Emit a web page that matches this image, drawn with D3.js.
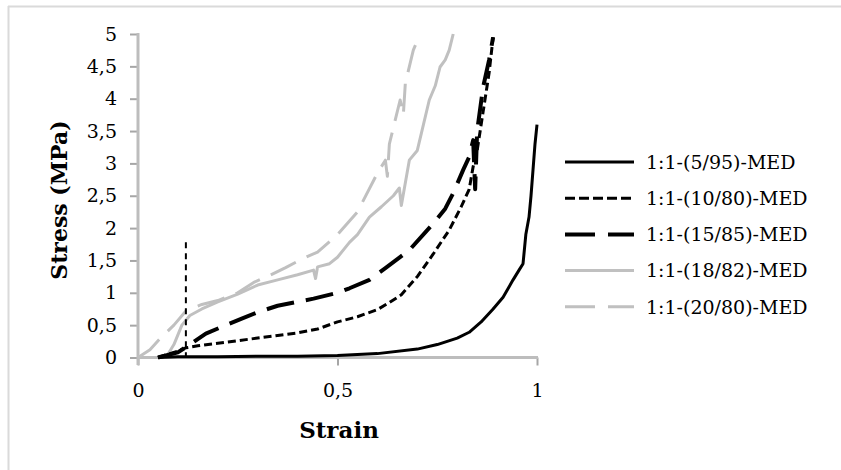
<!DOCTYPE html>
<html>
<head>
<meta charset="utf-8">
<script src="https://cdn.jsdelivr.net/npm/d3@7"></script>
<style>
  body { margin: 0; background: #fff; }
  svg { display: block; }
  .tick text { font-family: "DejaVu Serif", serif; font-size: 19px; fill: #000; }
</style>
</head>
<body>
<svg id="chart" width="841" height="470"></svg>
<script>
// --- data ---
var seriesNames = ["1:1-(5/95)-MED", "1:1-(10/80)-MED", "1:1-(15/85)-MED", "1:1-(18/82)-MED", "1:1-(20/80)-MED"];

var strain595 = [0.05, 0.1, 0.2, 0.3, 0.4, 0.5, 0.6, 0.7, 0.75, 0.8, 0.83, 0.86, 0.89, 0.915, 0.94, 0.955, 0.965, 0.972, 0.98, 0.985, 0.99, 0.995, 1.0];
var stress595 = [0, 0.01, 0.01, 0.02, 0.02, 0.03, 0.06, 0.13, 0.2, 0.3, 0.39, 0.55, 0.75, 0.93, 1.2, 1.35, 1.45, 1.9, 2.17, 2.5, 2.9, 3.3, 3.6];

var strain1080 = [0.05, 0.08, 0.1, 0.12, 0.15, 0.2, 0.25, 0.3, 0.35, 0.4, 0.45, 0.5, 0.55, 0.6, 0.63, 0.66, 0.7, 0.74, 0.78, 0.81, 0.83, 0.84, 0.85, 0.865, 0.88, 0.89];
var stress1080 = [0, 0.06, 0.1, 0.15, 0.18, 0.22, 0.26, 0.3, 0.34, 0.38, 0.44, 0.55, 0.63, 0.74, 0.85, 0.97, 1.25, 1.6, 1.97, 2.33, 2.6, 2.95, 3.2, 3.8, 4.4, 4.95];

var strain1585 = [0.05, 0.1, 0.13, 0.17, 0.22, 0.26, 0.3, 0.35, 0.4, 0.44, 0.5, 0.53, 0.58, 0.62, 0.68, 0.74, 0.77, 0.79, 0.815, 0.83, 0.84, 0.845, 0.85, 0.865, 0.88, 0.89];
var stress1585 = [0, 0.08, 0.2, 0.37, 0.5, 0.6, 0.7, 0.8, 0.86, 0.91, 1.0, 1.07, 1.2, 1.38, 1.66, 2.07, 2.3, 2.54, 2.9, 3.1, 3.36, 2.6, 3.5, 4.18, 4.6, 4.95];

var strain1882 = [0.07, 0.09, 0.11, 0.13, 0.16, 0.2, 0.25, 0.3, 0.35, 0.4, 0.44, 0.445, 0.45, 0.48, 0.5, 0.53, 0.55, 0.58, 0.61, 0.64, 0.655, 0.66, 0.68, 0.7, 0.71, 0.73, 0.745, 0.757, 0.77, 0.78, 0.79];
var stress1882 = [0, 0.2, 0.5, 0.65, 0.75, 0.86, 0.98, 1.12, 1.2, 1.28, 1.35, 1.22, 1.4, 1.45, 1.55, 1.78, 1.9, 2.17, 2.33, 2.5, 2.62, 2.35, 3.05, 3.2, 3.46, 3.98, 4.2, 4.49, 4.6, 4.75, 5.0];

var strain2080 = [0, 0.03, 0.055, 0.09, 0.12, 0.16, 0.2, 0.25, 0.29, 0.33, 0.37, 0.41, 0.45, 0.5, 0.55, 0.6, 0.62, 0.625, 0.63, 0.657, 0.665, 0.67, 0.69, 0.707];
var stress2080 = [0, 0.12, 0.29, 0.5, 0.72, 0.82, 0.88, 1.0, 1.16, 1.27, 1.39, 1.52, 1.63, 1.9, 2.25, 2.85, 3.05, 2.8, 3.3, 3.98, 3.75, 4.24, 4.75, 5.0];

// vertical marker line
var markerStrain = 0.12;
var markerStress = [0, 1.78];

var xTicks = [0, 0.5, 1];
var yTicks = [0, 0.5, 1, 1.5, 2, 2.5, 3, 3.5, 4, 4.5, 5];

// --- drawing ---
var svg = d3.select("#chart");
var fmt = function(d) { return String(d).replace(".", ","); };

// frame (top and left edges only)
svg.append("line").attr("x1", 8).attr("x2", 841).attr("y1", 6.5).attr("y2", 6.5)
  .attr("stroke", "#dadada").attr("stroke-width", 2);
svg.append("line").attr("x1", 8.5).attr("x2", 8.5).attr("y1", 6).attr("y2", 470)
  .attr("stroke", "#dadada").attr("stroke-width", 2);

var x = d3.scaleLinear().domain([0, 1]).range([138, 537]);
var y = d3.scaleLinear().domain([0, 5]).range([357.5, 34]);

svg.append("defs").append("clipPath").attr("id", "plotclip")
  .append("rect").attr("x", 130).attr("y", 32).attr("width", 420).attr("height", 330);

// axes
var yAxis = svg.append("g").attr("transform", "translate(138,0)")
  .call(d3.axisLeft(y).tickValues(yTicks).tickFormat(fmt).tickSize(8).tickPadding(13));
yAxis.select(".domain").remove();
yAxis.selectAll(".tick line").attr("stroke", "#a6a6a6").attr("stroke-width", 2);

var xAxis = svg.append("g").attr("transform", "translate(0,357.5)")
  .call(d3.axisBottom(x).tickValues(xTicks).tickFormat(fmt).tickSize(8).tickPadding(18));
xAxis.select(".domain").remove();
xAxis.selectAll(".tick line").attr("stroke", "#a6a6a6").attr("stroke-width", 2);

svg.append("line").attr("x1", 138).attr("x2", 138).attr("y1", y(5) - 1).attr("y2", 365)
  .attr("stroke", "#bdbdbd").attr("stroke-width", 3);
svg.append("line").attr("x1", 137).attr("x2", 538).attr("y1", 357.5).attr("y2", 357.5)
  .attr("stroke", "#bdbdbd").attr("stroke-width", 3);

// axis titles
svg.append("text")
  .attr("transform", "translate(67,200) rotate(-90)")
  .attr("text-anchor", "middle")
  .style("font-family", "DejaVu Serif, serif").style("font-weight", "bold").style("font-size", "22px")
  .text("Stress (MPa)");
svg.append("text")
  .attr("x", 339).attr("y", 438)
  .attr("text-anchor", "middle")
  .style("font-family", "DejaVu Serif, serif").style("font-weight", "bold").style("font-size", "23px")
  .text("Strain");

// series
var styles = [
  { color: "#000", width: 3, dash: null },
  { color: "#000", width: 3, dash: "8,4" },
  { color: "#000", width: 4, dash: "28,12" },
  { color: "#c0c0c0", width: 3, dash: null },
  { color: "#c0c0c0", width: 3, dash: "28,12" }
];
var series = [
  d3.zip(strain595, stress595),
  d3.zip(strain1080, stress1080),
  d3.zip(strain1585, stress1585),
  d3.zip(strain1882, stress1882),
  d3.zip(strain2080, stress2080)
];

var line = d3.line().x(function(d) { return x(d[0]); }).y(function(d) { return y(d[1]); });

var plot = svg.append("g").attr("clip-path", "url(#plotclip)");
// draw grey ones first so black stays on top
[4, 3, 0, 1, 2].forEach(function(i) {
  plot.append("path")
    .datum(series[i])
    .attr("d", line)
    .attr("fill", "none")
    .attr("stroke", styles[i].color)
    .attr("stroke-width", styles[i].width)
    .attr("stroke-dasharray", styles[i].dash)
    .attr("stroke-linejoin", "round");
});

plot.append("line")
  .attr("x1", x(markerStrain)).attr("x2", x(markerStrain))
  .attr("y1", y(markerStress[1])).attr("y2", y(markerStress[0]))
  .attr("stroke", "#000").attr("stroke-width", 2).attr("stroke-dasharray", "6,5");

// legend
var legend = svg.append("g").attr("transform", "translate(565,162)");
var rows = legend.selectAll("g").data(seriesNames).enter().append("g")
  .attr("transform", function(d, i) { return "translate(0," + (i * 36.2) + ")"; });
rows.append("line")
  .attr("x1", 0).attr("x2", 69).attr("y1", 0).attr("y2", 0)
  .attr("stroke", function(d, i) { return styles[i].color; })
  .attr("stroke-width", function(d, i) { return styles[i].width; })
  .attr("stroke-dasharray", function(d, i) { return i === 1 ? "10,4" : (styles[i].dash ? "30,13" : null); });
rows.append("text")
  .attr("x", 81).attr("y", 0).attr("dy", "0.36em")
  .style("font-family", "DejaVu Serif, serif").style("font-size", "19px")
  .text(function(d) { return d; });
</script>
</body>
</html>
